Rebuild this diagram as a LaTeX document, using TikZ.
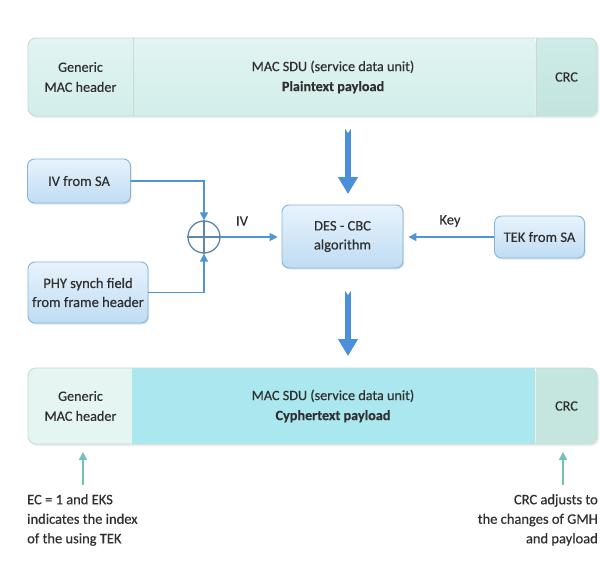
\documentclass[tikz,border=0pt]{standalone}
\usepackage{fontspec}
\setmainfont{Carlito}[FakeBold=0.35, BoldFeatures={FakeBold=0.2}]
\usetikzlibrary{arrows.meta,calc,shadows}
\definecolor{txt}{HTML}{2F2F2F}
\definecolor{conn}{HTML}{4F94D4}
\definecolor{thick}{HTML}{4A8FD8}
\definecolor{boxtop}{HTML}{E8F3FC}
\definecolor{boxbot}{HTML}{BFDCF3}
\definecolor{boxline}{HTML}{80B6E0}
\definecolor{xorc}{HTML}{5E87AE}
\definecolor{teal}{HTML}{72C2B8}
\definecolor{barline}{HTML}{C2DCD8}
\definecolor{tgtop}{HTML}{E2F4F2}
\definecolor{tgbot}{HTML}{D2EEEA}
\definecolor{tctop}{HTML}{CFEBE7}
\definecolor{tcbot}{HTML}{C2E4DF}
\definecolor{bgen}{HTML}{E5F5F2}
\definecolor{bmid}{HTML}{ABE7EF}
\definecolor{bcrc}{HTML}{C4E6DF}
\tikzset{
  x=1pt, y=-1pt,
  every node/.style={text=txt, font=\fontsize{14.2}{20}\selectfont, align=center},
  sec/.style={rectangle, inner sep=0pt, minimum height=78pt},
  bbox/.style={rectangle, rounded corners=7pt, draw=boxline, line width=0.9pt,
    top color=boxtop, bottom color=boxbot, inner sep=0pt,
    drop shadow={shadow xshift=1.2pt, shadow yshift=-1.5pt, opacity=0.22},
    font=\fontsize{14.5}{19}\selectfont},
  conn/.style={draw=conn, line width=1.6pt, -{Triangle[width=8pt,length=8pt]}},
  bigarrow/.style={draw=thick, line width=6pt, -{Triangle[width=19pt,length=17pt]}},
  tealarrow/.style={draw=teal, line width=1.6pt, -{Triangle[width=8pt,length=8pt]}},
  note/.style={font=\fontsize{14.5}{19.5}\selectfont, inner sep=0pt},
}
\begin{document}
\begin{tikzpicture}
\useasboundingbox (0,0) rectangle (600,574);
\fill[white] (0,0) rectangle (600,574);

% ---------- top bar ----------
\fill[black!8] (30,41) [rounded corners=8pt] rectangle (599,118);
\begin{scope}
\clip[rounded corners=8pt] (28,38) rectangle (597,116);
\node[sec, minimum width=105pt, top color=tgtop, bottom color=tgbot] (tg) at (80.5,77) {Generic\\MAC header};
\node[sec, minimum width=403pt, top color=tgtop, bottom color=tgbot] (tm) at (333,77) {MAC SDU (service data unit)\\\textbf{Plaintext payload}};
\node[sec, minimum width=61pt, top color=tctop, bottom color=tcbot] (tc) at (566.5,77) {CRC};
\end{scope}
\draw[barline, line width=0.8pt] (133,38) -- (133,116) (536,38) -- (536,116);
\draw[barline, line width=0.9pt, rounded corners=8pt] (28,38) rectangle (597,116);

% ---------- middle ----------
\node[bbox, minimum width=121pt, minimum height=63pt] (des) at (342.5,236.5) {DES - CBC\\algorithm};
\node[bbox, minimum width=103pt, minimum height=44pt] (iv) at (79,181) {IV from SA};
\node[bbox, minimum width=120pt, minimum height=61pt] (phy) at (88,292.5) {PHY synch field\\from frame header};
\node[bbox, minimum width=90pt, minimum height=42pt] (tek) at (539.5,237) {TEK from SA};
\node[circle, draw=xorc, line width=1.3pt, minimum size=32pt, inner sep=0pt] (xor) at (204,237) {};
\draw[xorc, line width=1.3pt] (xor.north) -- (xor.south) (xor.west) -- (xor.east);

\draw[conn] (iv.east) -| (xor.north);
\draw[conn] (phy.east) -| (xor.south);
\draw[conn, shorten >=4pt] (xor.east) -- (des.west |- xor.east);
\draw[conn, shorten >=5pt] (tek.west) -- (des.east |- tek.west);
\node[font=\fontsize{14.5}{17}\selectfont] (ivl) at (242,221) {IV};
\node[font=\fontsize{14.5}{17}\selectfont] (keyl) at (450,221) {Key};

\coordinate (a1s) at (348,128);
\coordinate (a1e) at (348,194);
\coordinate (a2s) at (348,290);
\coordinate (a2e) at (348,356);
\draw[bigarrow] (a1s) -- (a1e);
\draw[bigarrow] (a2s) -- (a2e);
\fill[white] ($(a1s)+(-3.6,-0.5)$) -- ($(a1s)+(3.6,-0.5)$) -- ($(a1s)+(0,5)$) -- cycle;
\fill[white] ($(a2s)+(-3.6,-0.5)$) -- ($(a2s)+(3.6,-0.5)$) -- ($(a2s)+(0,5)$) -- cycle;

% ---------- bottom bar ----------
\fill[black!8] (30,371) [rounded corners=8pt] rectangle (599,446);
\begin{scope}
\clip[rounded corners=8pt] (28,368) rectangle (597,444);
\node[sec, minimum height=76pt, minimum width=105pt, fill=bgen] (bg) at (80.5,406) {Generic\\MAC header};
\node[sec, minimum height=76pt, minimum width=403pt, fill=bmid] (bm) at (333,406) {MAC SDU (service data unit)\\\textbf{Cyphertext payload}};
\node[sec, minimum height=76pt, minimum width=61pt, fill=bcrc] (bc) at (566.5,406) {CRC};
\end{scope}
\draw[barline, line width=0.9pt, rounded corners=8pt] (28,368) rectangle (597,444);

% ---------- notes ----------
\node[note, anchor=north west, align=left] (ln) at (27,494) {EC = 1 and EKS\\indicates the index\\of the using TEK};
\node[note, anchor=north east, align=right] (rn) at (598,494) {CRC adjusts to\\the changes of GMH\\and payload};
\coordinate (t1s) at (83,485);
\coordinate (t1e) at (83,452);
\coordinate (t2s) at (563,485);
\coordinate (t2e) at (563,452);
\draw[tealarrow] (t1s) -- (t1e);
\draw[tealarrow] (t2s) -- (t2e);
\end{tikzpicture}
\end{document}
